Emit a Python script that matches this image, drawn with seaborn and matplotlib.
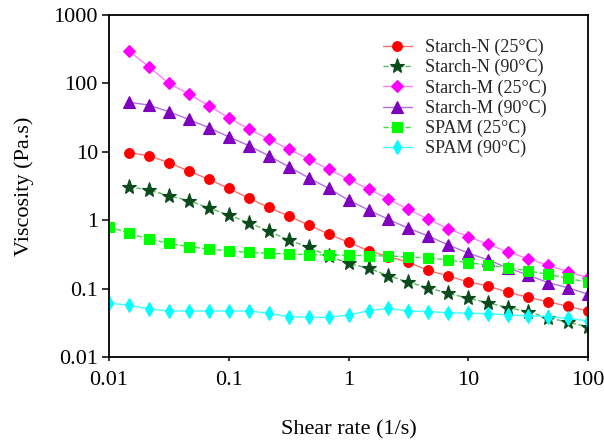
import matplotlib
matplotlib.use("Agg")
import matplotlib.pyplot as plt
import matplotlib.ticker as mticker
import seaborn as sns
import pandas as pd

# Shear rate grid (1/s)
shear_rate = [0.01, 0.0147, 0.0215, 0.0316, 0.0464, 0.0681,
              0.1, 0.147, 0.215, 0.316, 0.464, 0.681,
              1, 1.47, 2.15, 3.16, 4.64, 6.81,
              10, 14.7, 21.5, 31.6, 46.4, 68.1, 100]

# Viscosity (Pa.s)
starch_n_25 = [9.7, 8.77, 6.93, 5.24, 3.96, 2.92, 2.09, 1.54, 1.15, 0.851, 0.629, 0.475,
               0.358, 0.294, 0.242, 0.184, 0.153, 0.125, 0.109, 0.0883, 0.0746, 0.0643,
               0.0551, 0.0471]
starch_n_90 = [3.09, 2.77, 2.28, 1.93, 1.52, 1.19, 0.919, 0.695, 0.514, 0.402, 0.300, 0.234,
               0.198, 0.155, 0.124, 0.103, 0.0853, 0.0721, 0.0622, 0.0526, 0.0459, 0.0376,
               0.0322, 0.0277]
starch_m_25 = [298, 175, 100, 70, 47, 31.5, 21.5, 15.4, 11, 7.85, 5.55, 3.96,
               2.86, 2.04, 1.44, 1.03, 0.75, 0.574, 0.445, 0.343, 0.274, 0.219,
               0.177, 0.144]
starch_m_90 = [53, 48.3, 38.5, 29.8, 22.5, 16.6, 12.3, 8.77, 6.05, 4.18, 2.92, 1.97,
               1.41, 1.03, 0.762, 0.588, 0.434, 0.331, 0.262, 0.2, 0.158, 0.122,
               0.103, 0.0826]
spam_25 = [0.803, 0.643, 0.531, 0.459, 0.410, 0.379, 0.355, 0.340, 0.328, 0.321, 0.313,
           0.310, 0.307, 0.303, 0.300, 0.290, 0.280, 0.262, 0.239, 0.221, 0.202, 0.181,
           0.162, 0.141, 0.124]
spam_90 = [0.061, 0.0575, 0.0503, 0.0471, 0.0471, 0.0471, 0.0471, 0.0471, 0.0436, 0.0388,
           0.038, 0.038, 0.0411, 0.0475, 0.0515, 0.0471, 0.046, 0.0445, 0.0436, 0.043,
           0.0411, 0.0402, 0.0388, 0.0368, 0.0336]

# label, data, x start index, marker, size, marker colour, line colour, dashed
series = [
    ("Starch-N (25°C)", starch_n_25, 1, "o", 7, "#FF0000", "#FF7070", False),
    ("Starch-N (90°C)", starch_n_90, 1, "*", 11, "#0B4A1C", "#5CB85C", True),
    ("Starch-M (25°C)", starch_m_25, 1, "D", 6, "#FF00FF", "#FF80FF", False),
    ("Starch-M (90°C)", starch_m_90, 1, "^", 8, "#7F00BF", "#B070E0", False),
    ("SPAM (25°C)", spam_25, 0, "s", 7, "#00FF00", "#40E040", True),
    ("SPAM (90°C)", spam_90, 0, "d", 7, "#00FFFF", "#40FFFF", False),
]

sns.set_theme(style="ticks")
plt.rcParams['font.family'] = ['Liberation Serif', 'DejaVu Serif']

fig = plt.figure(figsize=(6.04, 4.42), dpi=100)
ax = fig.add_axes([0.1805, 0.1923, 0.793, 0.7737])

for label, vals, start, mk, ms, mcol, lcol, dashed in series:
    df = pd.DataFrame({"x": shear_rate[start:], "y": vals})
    sns.lineplot(data=df, x="x", y="y", ax=ax, label=label,
                 color=lcol, marker=mk, markersize=ms,
                 markerfacecolor=mcol, markeredgecolor=mcol, markeredgewidth=0.8,
                 linewidth=1.0, linestyle="--" if dashed else "-")

ax.set_xscale("log")
ax.set_yscale("log")
ax.set_xlim(0.01, 100)
ax.set_ylim(0.01, 1000)

fmt = mticker.FuncFormatter(lambda v, p: f"{v:g}")
ax.xaxis.set_major_locator(mticker.LogLocator(base=10, numticks=10))
ax.yaxis.set_major_locator(mticker.LogLocator(base=10, numticks=10))
ax.xaxis.set_minor_locator(mticker.NullLocator())
ax.yaxis.set_minor_locator(mticker.NullLocator())
ax.xaxis.set_major_formatter(fmt)
ax.yaxis.set_major_formatter(fmt)

ax.tick_params(axis="x", direction="out", length=3, width=1.1, pad=7,
               labelsize=16, colors="black")
ax.tick_params(axis="y", direction="out", length=5, width=1.1, pad=3,
               labelsize=16, colors="black")
for s in ax.spines.values():
    s.set_visible(True)
    s.set_color("black")
    s.set_linewidth(1.3)

ax.set_xlabel("Shear rate (1/s)", fontsize=16, labelpad=22, color="black")
ax.set_ylabel("Viscosity (Pa.s)", fontsize=16, labelpad=14, color="black")

ax.legend(loc="upper left", bbox_to_anchor=(0.572, 0.93), frameon=False,
          fontsize=13, borderaxespad=0, borderpad=0, handlelength=1.6,
          handletextpad=0.7, labelspacing=0.16)

plt.savefig("out.png", dpi=100)
